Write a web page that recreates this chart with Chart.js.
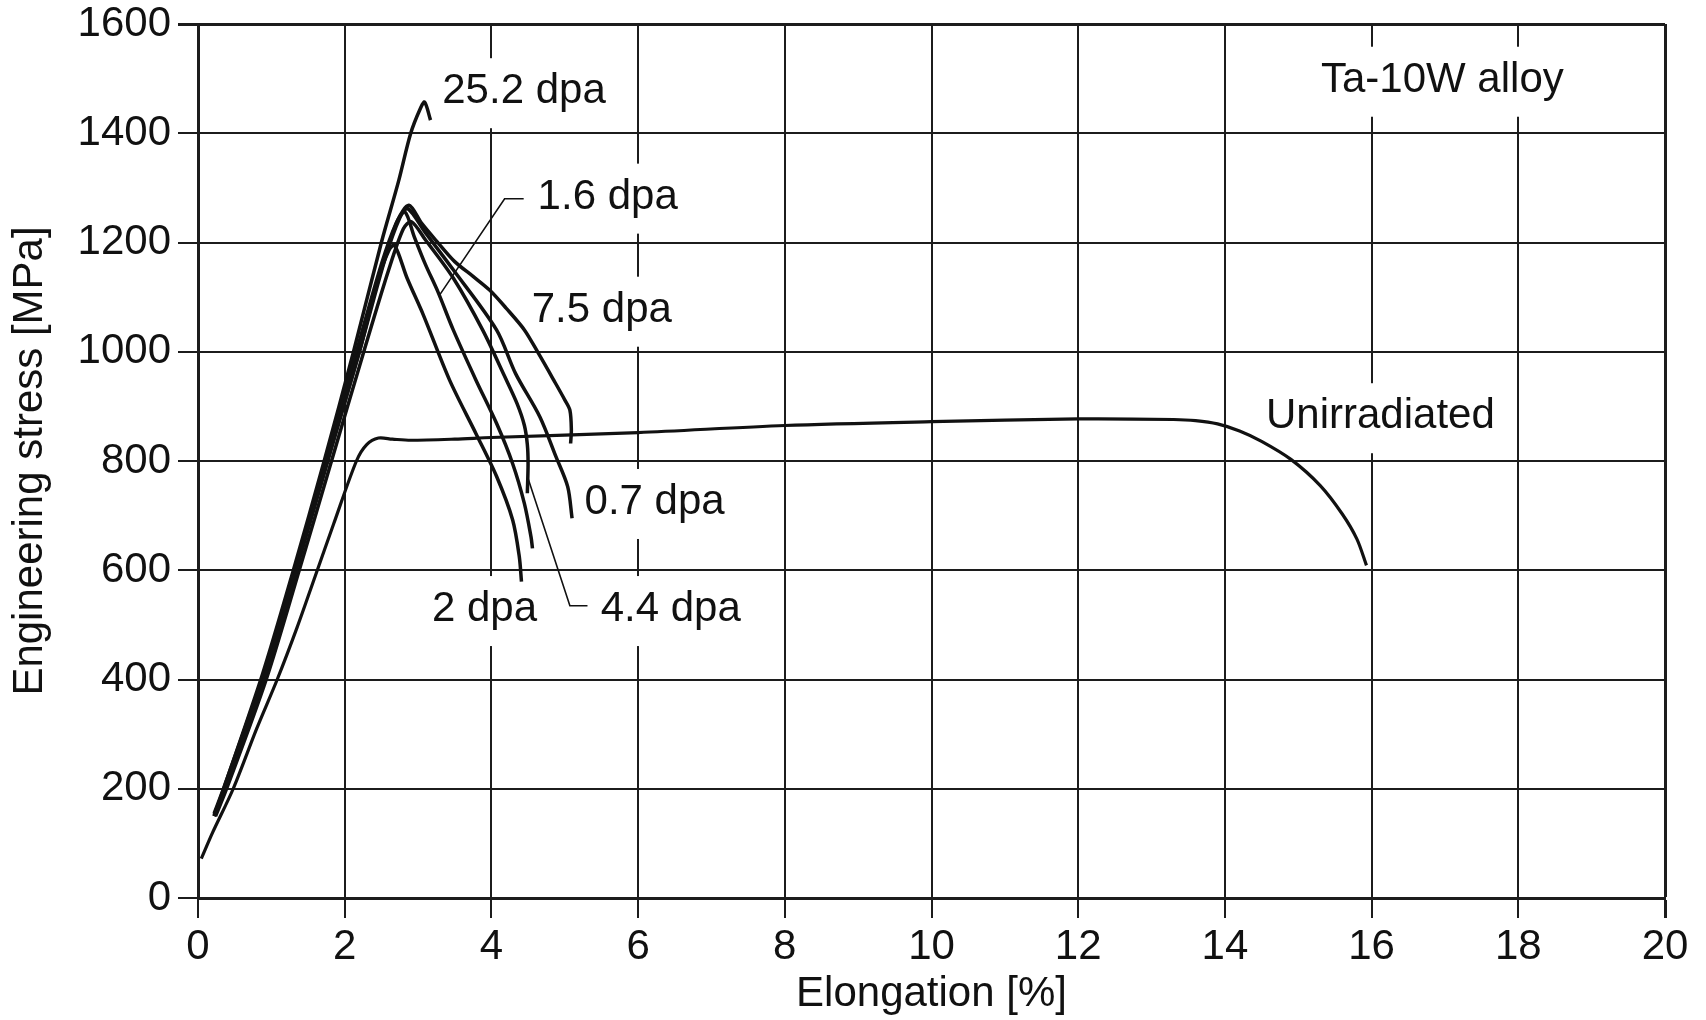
<html>

<head>
    <script src="https://cdn.jsdelivr.net/npm/chart.js"></script>
    <style>
        body { margin: 0; background: #fff; }
    </style>
</head>

<body>
    <canvas id="myChart" width="1706" height="1020"></canvas>
</body>
<script>
    // axis ticks
    var xTickValues = [0, 2, 4, 6, 8, 10, 12, 14, 16, 18, 20];
    var yTickValues = [0, 200, 400, 600, 800, 1000, 1200, 1400, 1600];

    // stress-strain curves (elongation %, engineering stress MPa)
    var elongUnirr = [0.045, 0.2, 0.48, 0.8, 1.08, 1.35, 1.6, 1.85, 2.16, 2.3, 2.46, 2.65, 2.9, 3.5, 4, 6, 8, 10, 12, 13.3, 13.6, 13.9, 14.2, 14.5, 14.9, 15.3, 15.6, 15.8, 15.93];
    var stressUnirr = [72, 120, 200, 310, 400, 495, 590, 685, 800, 830, 842, 840, 838, 840, 843, 852, 865, 872, 877, 876, 874, 868, 855, 836, 803, 755, 703, 657, 609];

    var elong07 = [0.23, 0.37, 0.9, 1.34, 1.77, 2.2, 2.55, 2.75, 2.86, 3.1, 3.48, 4.07, 4.33, 4.66, 4.88, 5.04, 5.1];
    var stress07 = [150, 200, 400, 600, 800, 1000, 1170, 1245, 1262, 1218, 1150, 1040, 960, 881, 808, 753, 695];

    var elong16 = [0.22, 0.36, 0.88, 1.32, 1.75, 2.16, 2.5, 2.7, 2.82, 2.95, 3.1, 3.27, 3.48, 3.79, 4.07, 4.29, 4.45, 4.54, 4.56];
    var stress16 = [155, 205, 405, 600, 800, 1000, 1160, 1235, 1256, 1210, 1160, 1110, 1040, 948, 869, 795, 722, 661, 640];

    var elong2 = [0.22, 0.36, 0.89, 1.33, 1.76, 2.2, 2.45, 2.6, 2.68, 2.85, 3.07, 3.43, 3.79, 4.07, 4.29, 4.38, 4.41];
    var stress2 = [150, 200, 400, 600, 800, 1000, 1130, 1185, 1195, 1135, 1068, 948, 850, 772, 692, 625, 579];

    var elong44 = [0.24, 0.39, 0.93, 1.38, 1.82, 2.26, 2.6, 2.8, 2.91, 3.1, 3.48, 3.88, 4.18, 4.35, 4.45, 4.49, 4.5, 4.49];
    var stress44 = [150, 200, 400, 600, 800, 1000, 1150, 1225, 1238, 1205, 1135, 1040, 955, 905, 865, 830, 795, 741];

    var elong75 = [0.22, 0.36, 0.89, 1.33, 1.76, 2.18, 2.52, 2.72, 2.875, 3.05, 3.25, 3.5, 3.75, 3.975, 4.2, 4.45, 4.65, 4.85, 5.0, 5.07, 5.09, 5.08];
    var stress75 = [152, 200, 400, 600, 800, 1000, 1160, 1240, 1268, 1235, 1203, 1165, 1138, 1113, 1080, 1040, 995, 948, 912, 893, 857, 832];

    var elong252 = [0.22, 0.35, 0.88, 1.3, 1.72, 2.12, 2.5, 2.73, 2.9, 3.03, 3.09, 3.17];
    var stress252 = [150, 200, 410, 600, 800, 1000, 1200, 1310, 1400, 1445, 1457, 1424];

    // leader lines from labels to curves
    var leader16X = [3.30, 4.18, 4.44];
    var leader16Y = [1105, 1280, 1280];
    var leader44X = [4.50, 5.07, 5.31];
    var leader44Y = [768, 535, 535];

    // in-plot text (baseline-left anchor, data units)
    var labelTexts = ['25.2 dpa', '1.6 dpa', '7.5 dpa', '0.7 dpa', '2 dpa', '4.4 dpa', 'Unirradiated', 'Ta-10W alloy'];
    var labelX = [3.33, 4.63, 4.55, 5.27, 3.19, 5.49, 14.56, 15.31];
    var labelY = [1455, 1262, 1055, 703, 507, 507, 860, 1476];

    var ink = '#111';
    var gridInk = '#1c1c1c';
    var fontFamily = '"Liberation Sans", Arial, sans-serif';

    function pts(xs, ys) {
        return xs.map(function (v, i) { return { x: v, y: ys[i] }; });
    }

    function curve(name, xs, ys, w, t) {
        return {
            label: name,
            data: pts(xs, ys),
            showLine: true,
            borderColor: ink,
            borderWidth: w,
            pointRadius: 0,
            tension: t,
            fill: false
        };
    }

    var labelPlugin = {
        id: 'curveLabels',
        beforeDatasetsDraw: function (chart) {
            var ctx = chart.ctx;
            var xs = chart.scales.x, ys = chart.scales.y;
            ctx.save();
            ctx.font = '42px ' + fontFamily;
            ctx.textBaseline = 'alphabetic';
            for (var i = 0; i < labelTexts.length; i++) {
                var px = xs.getPixelForValue(labelX[i]);
                var py = ys.getPixelForValue(labelY[i]);
                var w = ctx.measureText(labelTexts[i]).width;
                ctx.fillStyle = '#fff';
                ctx.fillRect(px - 10, py - 45, w + 20, 70);
                ctx.fillStyle = ink;
                ctx.fillText(labelTexts[i], px, py);
            }
            ctx.restore();
        }
    };

    Chart.defaults.font.family = fontFamily;
    Chart.defaults.font.size = 42;
    Chart.defaults.color = ink;

    var ctx = document.getElementById("myChart").getContext("2d");
    var chart = new Chart(ctx, {
        type: 'scatter',
        data: {
            datasets: [
                curve('Unirradiated', elongUnirr, stressUnirr, 3.2, 0.3),
                curve('0.7 dpa', elong07, stress07, 3.5, 0.3),
                curve('1.6 dpa', elong16, stress16, 3.5, 0.3),
                curve('2 dpa', elong2, stress2, 3.5, 0.3),
                curve('4.4 dpa', elong44, stress44, 3.5, 0.3),
                curve('7.5 dpa', elong75, stress75, 3.5, 0.3),
                curve('25.2 dpa', elong252, stress252, 3.5, 0.3),
                curve('leader 1.6', leader16X, leader16Y, 1.6, 0),
                curve('leader 4.4', leader44X, leader44Y, 1.6, 0)
            ]
        },
        options: {
            responsive: false,
            animation: false,
            devicePixelRatio: 1,
            layout: { padding: { left: 0, top: 24, right: 41, bottom: 0 } },
            plugins: { legend: { display: false }, tooltip: { enabled: false } },
            scales: {
                x: {
                    type: 'linear',
                    min: 0,
                    max: 20,
                    afterBuildTicks: function (s) { s.ticks = xTickValues.map(function (v) { return { value: v }; }); },
                    afterFit: function (s) { s.height = 122; s.paddingLeft = 0; s.paddingRight = 0; },
                    grid: {
                        color: gridInk,
                        lineWidth: function (c) { return c.tick && c.tick.value === 20 ? 3 : 2; },
                        tickLength: 20
                    },
                    border: { color: gridInk, width: 3 },
                    ticks: {
                        padding: 4, color: ink, maxRotation: 0, autoSkip: false,
                        callback: function (v) { return String(v); }
                    },
                    title: { display: true, text: 'Elongation [%]', color: ink, padding: { top: 0, bottom: 0 } }
                },
                y: {
                    type: 'linear',
                    min: 0,
                    max: 1600,
                    afterBuildTicks: function (s) { s.ticks = yTickValues.map(function (v) { return { value: v }; }); },
                    afterFit: function (s) { s.width = 198; s.paddingTop = 0; s.paddingBottom = 0; },
                    grid: {
                        color: gridInk,
                        lineWidth: function (c) { return c.tick && c.tick.value === 1600 ? 3 : 2; },
                        tickLength: 20
                    },
                    border: { color: gridInk, width: 3 },
                    ticks: {
                        padding: 7, color: ink, autoSkip: false,
                        callback: function (v) { return String(v); }
                    },
                    title: { display: true, text: 'Engineering stress [MPa]', color: ink, padding: { top: 5, bottom: 0 } }
                }
            }
        },
        plugins: [labelPlugin]
    });
</script>

</html>
